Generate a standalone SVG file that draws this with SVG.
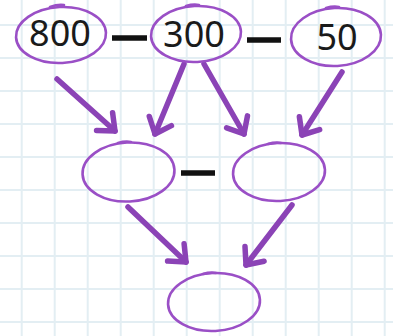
<svg xmlns="http://www.w3.org/2000/svg" width="393" height="336" viewBox="0 0 393 336">
<style>
.grid line{stroke:#e3eef3;stroke-width:2}
.node ellipse,.node path{fill:none;stroke:#9a4fc6;stroke-width:2.6;stroke-linecap:round}
.node text{font-family:"Noto Sans","Open Sans",sans-serif;font-size:36px;fill:#1a1a1a;text-anchor:middle}
.arrow{fill:none;stroke:#8b43b6;stroke-width:5.5;stroke-linecap:round;stroke-linejoin:round}
.op{stroke:#111;stroke-width:5.5}
</style>
<defs>
<marker id="head" markerUnits="userSpaceOnUse" orient="auto" viewBox="-20 -16 24 32" refX="0" refY="0" markerWidth="24" markerHeight="32">
<path d="M-14,-12 L0,0 L-14,12" fill="none" stroke="#8b43b6" stroke-width="5.5" stroke-linecap="round" stroke-linejoin="round"/>
</marker>
</defs>
<rect width="393" height="336" fill="#ffffff"/>
<g class="grid">
<line x1="21.7" y1="0" x2="21.7" y2="336"/><line x1="54.7" y1="0" x2="54.7" y2="336"/><line x1="87.7" y1="0" x2="87.7" y2="336"/><line x1="120.7" y1="0" x2="120.7" y2="336"/><line x1="153.7" y1="0" x2="153.7" y2="336"/><line x1="186.7" y1="0" x2="186.7" y2="336"/><line x1="219.7" y1="0" x2="219.7" y2="336"/><line x1="252.7" y1="0" x2="252.7" y2="336"/><line x1="285.7" y1="0" x2="285.7" y2="336"/><line x1="318.7" y1="0" x2="318.7" y2="336"/><line x1="351.7" y1="0" x2="351.7" y2="336"/><line x1="384.7" y1="0" x2="384.7" y2="336"/>
<line x1="0" y1="25" x2="393" y2="25"/><line x1="0" y1="58" x2="393" y2="58"/><line x1="0" y1="91" x2="393" y2="91"/><line x1="0" y1="124" x2="393" y2="124"/><line x1="0" y1="157" x2="393" y2="157"/><line x1="0" y1="190" x2="393" y2="190"/><line x1="0" y1="223" x2="393" y2="223"/><line x1="0" y1="256" x2="393" y2="256"/><line x1="0" y1="289" x2="393" y2="289"/><line x1="0" y1="322" x2="393" y2="322"/>
</g>
<g id="connectors">
<path class="arrow" marker-end="url(#head)" d="M57,79 L115,131"/>
<path class="arrow" marker-end="url(#head)" d="M184,64 L155,134"/>
<path class="arrow" marker-end="url(#head)" d="M204,64 L244,134"/>
<path class="arrow" marker-end="url(#head)" d="M342,72 L302,135"/>
<path class="arrow" marker-end="url(#head)" d="M128,207 L186,262"/>
<path class="arrow" marker-end="url(#head)" d="M292,205 L246,265"/>
</g>
<g id="operators">
<line class="op" x1="112" y1="38" x2="147" y2="38"/>
<line class="op" x1="247" y1="40" x2="281" y2="40"/>
<line class="op" x1="181" y1="173" x2="215" y2="173"/>
</g>
<g id="n800" class="node">
<ellipse cx="61" cy="35" rx="45" ry="28" transform="rotate(-3 61 35)"/>
<path d="M50,7 Q58,4 64,5"/>
<text x="60" y="46">800</text>
</g>
<g id="n300" class="node">
<ellipse cx="196" cy="34" rx="45" ry="28" transform="rotate(-3 196 34)"/>
<path d="M186,6 Q193,4 199,5"/>
<text x="194" y="47">300</text>
</g>
<g id="n50" class="node">
<ellipse cx="336" cy="37" rx="45" ry="29" transform="rotate(-3 336 37)"/>
<path d="M326,8 Q333,6 339,7"/>
<text x="337" y="50">50</text>
</g>
<g id="nLeft" class="node">
<ellipse cx="128.5" cy="172" rx="46" ry="29.5" transform="rotate(-3 128.5 172)"/>
<path d="M118,143 Q125,141 131,142"/>
</g>
<g id="nRight" class="node">
<ellipse cx="279" cy="172" rx="46" ry="29" transform="rotate(-3 279 172)"/>
<path d="M268,144 Q275,142 281,143"/>
</g>
<g id="nBottom" class="node">
<ellipse cx="214" cy="302" rx="46" ry="29" transform="rotate(-3 214 302)"/>
<path d="M203,274 Q210,272 216,273"/>
</g>
</svg>
